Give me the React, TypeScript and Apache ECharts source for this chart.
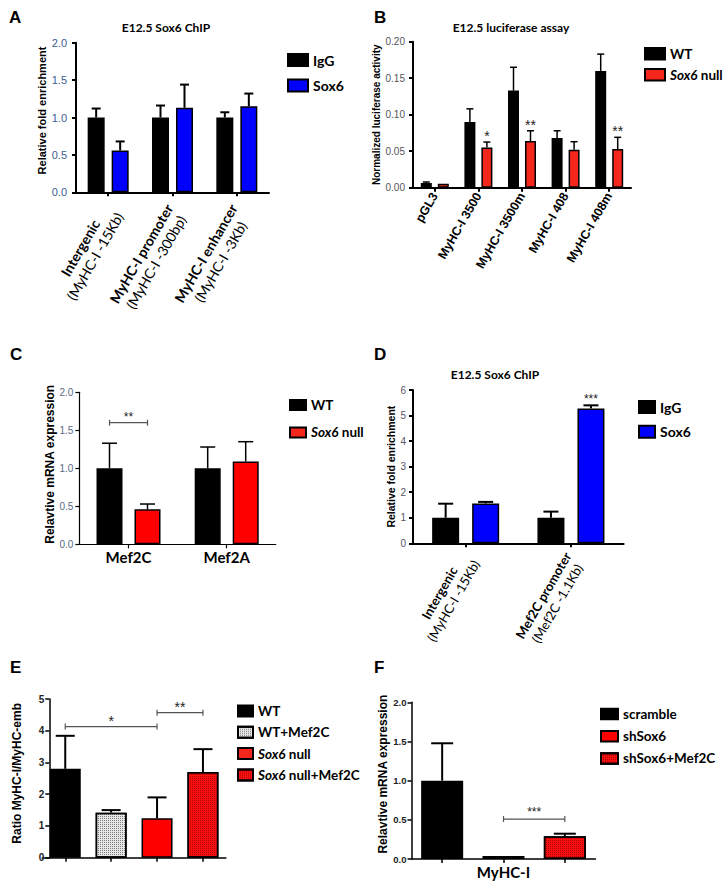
import React, { useEffect, useRef } from 'react';
import * as echarts from 'echarts';

// ---------- Panel A: E12.5 Sox6 ChIP (MyHC-I) ----------
const aSites = ['Intergenic', 'MyHC-I promoter', 'MyHC-I enhancer'];
const aSitePos = ['(MyHC-I -15Kb)', '(MyHC-I -300bp)', '(MyHC-I -3Kb)'];
const aIgG = [1.0, 1.0, 1.0];
const aIgGErr = [0.12, 0.16, 0.07];
const aSox6 = [0.56, 1.13, 1.15];
const aSox6Err = [0.12, 0.31, 0.17];

// ---------- Panel B: luciferase ----------
const bConstructs = ['pGL3', 'MyHC-I 3500', 'MyHC-I 3500m', 'MyHC-I 408', 'MyHC-I 408m'];
const bWT = [0.0064, 0.09, 0.133, 0.068, 0.16];
const bWTErr = [0.0014, 0.018, 0.032, 0.01, 0.023];
const bNull = [0.0055, 0.055, 0.064, 0.052, 0.053];
const bNullErr = [0, 0.0075, 0.014, 0.011, 0.016];
const bSig = ['', '*', '**', '', '**'];

// ---------- Panel C: Mef2 mRNA ----------
const cGenes = ['Mef2C', 'Mef2A'];
const cWT = [1.0, 1.0];
const cWTErr = [0.33, 0.28];
const cNull = [0.46, 1.09];
const cNullErr = [0.07, 0.26];
const cSigGene = [0];
const cSigY = [1.6];
const cSigLabel = ['**'];

// ---------- Panel D: Sox6 ChIP (Mef2C) ----------
const dSites = ['Intergenic', 'Mef2C promoter'];
const dSitePos = ['(MyHC-I -15Kb)', '(Mef2C -1.1Kb)'];
const dIgG = [1.0, 1.0];
const dIgGErr = [0.55, 0.24];
const dSox6 = [1.56, 5.28];
const dSox6Err = [0.06, 0.12];
const dSig = ['', '***'];

// ---------- Panel E: ratio ----------
const eGroups = ['WT', 'WT+Mef2C', 'Sox6 null', 'Sox6 null+Mef2C'];
const eRatio = [2.8, 1.42, 1.24, 2.7];
const eErr = [1.04, 0.08, 0.66, 0.72];
const eSigFrom = [0, 2];
const eSigTo = [2, 3];
const eSigY = [4.13, 4.57];
const eSigLabel = ['*', '**'];

// ---------- Panel F: MyHC-I mRNA ----------
const fGroups = ['scramble', 'shSox6', 'shSox6+Mef2C'];
const fGene = 'MyHC-I';
const fExpr = [1.0, 0.038, 0.29];
const fErr = [0.477, 0.004, 0.033];
const fSigFrom = [1];
const fSigTo = [2];
const fSigY = [0.51];
const fSigLabel = ['***'];

const ARIAL = 'Liberation Sans';
const CAL = 'Lato';

const dotsLight = {
  symbol: 'rect', symbolSize: 1, color: 'rgba(0,0,0,0.45)',
  backgroundColor: '#efefef', dashArrayX: [1, 1], dashArrayY: [1, 1], rotation: 0,
};
const dotsRed = {
  symbol: 'rect', symbolSize: 1, color: 'rgba(90,0,0,0.55)',
  backgroundColor: '#ff1010', dashArrayX: [1, 1], dashArrayY: [1, 1], rotation: 0,
};

function errorSeries(gi: number, vals: number[], errs: number[], offset: number, cap: number, lw: number) {
  return {
    type: 'custom', xAxisIndex: gi, yAxisIndex: gi, z: 4, silent: true,
    data: vals.map((v, i) => [i, v, v + errs[i]]),
    encode: { x: 0, y: [1, 2] },
    renderItem: (params: any, api: any) => {
      const b = api.coord([api.value(0), api.value(1)]);
      const t = api.coord([api.value(0), api.value(2)]);
      if (b[1] - t[1] < 0.6) return { type: 'group', children: [] };
      const x = b[0] + offset;
      const st = { stroke: '#000', lineWidth: lw };
      return {
        type: 'group',
        children: [
          { type: 'line', shape: { x1: x, y1: b[1], x2: x, y2: t[1] }, style: st },
          { type: 'line', shape: { x1: x - cap / 2, y1: t[1], x2: x + cap / 2, y2: t[1] }, style: st },
        ],
      };
    },
  };
}

function starSeries(gi: number, vals: number[], errs: number[], labels: string[], offset: number, gap: number, size: number) {
  return {
    type: 'custom', xAxisIndex: gi, yAxisIndex: gi, z: 5, silent: true,
    data: vals.map((v, i) => [i, v + errs[i]]),
    encode: { x: 0, y: 1 },
    renderItem: (params: any, api: any) => {
      const lbl = labels[params.dataIndex];
      if (!lbl) return { type: 'group', children: [] };
      const p = api.coord([api.value(0), api.value(1)]);
      return {
        type: 'text', x: p[0] + offset, y: p[1] - gap,
        style: {
          text: lbl, fill: '#222', font: `${size}px "${ARIAL}"`,
          textAlign: 'center', textVerticalAlign: 'middle', align: 'center', verticalAlign: 'middle',
        },
      };
    },
  };
}

function bracketSeries(gi: number, from: number[], to: number[], ys: number[], labels: string[], fromOff: number, toOff: number, size: number, labelGap: number) {
  return {
    type: 'custom', xAxisIndex: gi, yAxisIndex: gi, z: 5, silent: true,
    data: from.map((f, i) => [f, to[i], ys[i]]),
    encode: { x: [0, 1], y: 2 },
    renderItem: (params: any, api: any) => {
      const i = params.dataIndex;
      const p1 = api.coord([api.value(0), api.value(2)]);
      const p2 = api.coord([api.value(1), api.value(2)]);
      const x1 = p1[0] + fromOff;
      const x2 = p2[0] + toOff;
      const y = p1[1];
      const st = { stroke: '#555', lineWidth: 1.2 };
      return {
        type: 'group',
        children: [
          { type: 'line', shape: { x1, y1: y, x2, y2: y }, style: st },
          { type: 'line', shape: { x1, y1: y - 3, x2: x1, y2: y + 3 }, style: st },
          { type: 'line', shape: { x1: x2, y1: y - 3, x2, y2: y + 3 }, style: st },
          {
            type: 'text', x: (x1 + x2) / 2, y: y - labelGap,
            style: {
              text: labels[i], fill: '#222', font: `${size}px "${ARIAL}"`,
              textAlign: 'center', textVerticalAlign: 'middle', align: 'center', verticalAlign: 'middle',
            },
          },
        ],
      };
    },
  };
}

function yAx(gi: number, max: number, interval: number, digits: number, label: any, name: string, nameGap: number, nameSize: number, lw: number, nameShift: number, extra: any = {}) {
  return {
    type: 'value', gridIndex: gi, min: 0, max, interval,
    name, nameLocation: 'middle', nameGap,
    nameTextStyle: {
      fontFamily: ARIAL, fontWeight: 'bold', fontSize: nameSize, color: '#000',
      padding: [0, 0, 0, nameShift],
    },
    axisLine: { show: true, lineStyle: { color: '#000', width: lw } },
    axisTick: { show: true, length: 4, lineStyle: { color: '#000', width: lw } },
    splitLine: { show: false },
    axisLabel: { formatter: (v: number) => v.toFixed(digits), ...label },
    ...extra,
  };
}

function xAx(gi: number, data: string[], lw: number, label: any) {
  return {
    type: 'category', gridIndex: gi, data,
    axisLine: { show: true, lineStyle: { color: '#000', width: lw } },
    axisTick: { show: true, alignWithLabel: true, length: 4, lineStyle: { color: '#000', width: lw } },
    splitLine: { show: false },
    axisLabel: { interval: 0, ...label },
  };
}

const twoLineRich = (size: number, lh: number) => ({
  b: { fontFamily: CAL, fontWeight: 'bold', fontSize: size, color: '#000', align: 'center', lineHeight: lh },
  s: { fontFamily: CAL, fontSize: size, color: '#000', align: 'center', lineHeight: lh },
});

const legendText = (size: number) => ({
  fontFamily: CAL, fontWeight: 'bold', fontSize: size, color: '#000',
  rich: { i: { fontFamily: CAL, fontWeight: 'bold', fontStyle: 'italic', fontSize: size, color: '#000' } },
});
const nullFmt = (name: string) => (name.indexOf('Sox6 null') === 0 ? name.replace('Sox6', '{i|Sox6}') : name);

export default function App() {
  const ref = useRef<HTMLDivElement>(null);
  useEffect(() => {
    document.body.style.margin = '0';
    if (!ref.current) return;
    const chart = echarts.init(ref.current, null, { renderer: 'svg', width: 724, height: 883 });

    const bar = (gi: number, name: string, data: any[], width: number, gapPct: string, itemStyle: any) => ({
      type: 'bar', name, xAxisIndex: gi, yAxisIndex: gi, data, barWidth: width, barGap: gapPct,
      itemStyle: { borderColor: '#000', borderWidth: 1.5, ...itemStyle }, z: 2, silent: true,
    });

    const letter = { fontFamily: ARIAL, fontWeight: 'bold', fontSize: 17, color: '#000' };
    const ttl = { fontFamily: CAL, fontWeight: 'bold', fontSize: 12, color: '#000' };

    const A = { bw: 17, gap: 7 };
    const B = { bw: 11, gap: 6 };
    const C = { bw: 26, gap: 12 };
    const D = { bw: 27, gap: 13 };
    const off = (p: { bw: number; gap: number }) => (p.bw + p.gap) / 2;
    const gp = (p: { bw: number; gap: number }) => `${(p.gap / p.bw) * 100}%`;

    const eStyles = [
      { color: '#000' },
      { color: '#e6e6e6', decal: dotsLight },
      { color: '#ff0000' },
      { color: '#ff1010', decal: dotsRed },
    ];
    const fStyles = [{ color: '#000' }, { color: '#ff0000' }, { color: '#ff1010', decal: dotsRed }];

    const option: any = {
      animation: false,
      backgroundColor: '#fff',
      title: [
        { text: 'A', left: 9, top: 9, padding: 0, textStyle: letter },
        { text: 'B', left: 374, top: 9, padding: 0, textStyle: letter },
        { text: 'C', left: 10, top: 346, padding: 0, textStyle: letter },
        { text: 'D', left: 374, top: 346, padding: 0, textStyle: letter },
        { text: 'E', left: 10, top: 659, padding: 0, textStyle: letter },
        { text: 'F', left: 374, top: 659, padding: 0, textStyle: letter },
        { text: 'E12.5 Sox6 ChIP', left: 166, top: 21, padding: 0, textAlign: 'center', textStyle: ttl },
        { text: 'E12.5 luciferase assay', left: 511, top: 21, padding: 0, textAlign: 'center', textStyle: ttl },
        { text: 'E12.5 Sox6 ChIP', left: 495, top: 368, padding: 0, textAlign: 'center', textStyle: ttl },
      ],
      grid: [
        { left: 76, top: 42.7, width: 193, height: 149.6 },
        { left: 413, top: 41.7, width: 218, height: 146 },
        { left: 79.4, top: 392.3, width: 196.4, height: 152 },
        { left: 413, top: 390, width: 210.6, height: 153.3 },
        { left: 42.3, top: 699, width: 183.6, height: 158.7 },
        { left: 411.5, top: 702.3, width: 184, height: 156.7 },
      ],
      xAxis: [
        xAx(0, aSites, 2, {
          rotate: 60, margin: 15, padding: [9, 0, 0, 0],
          formatter: (v: string, i: number) => `{b|${v}}\n{s|${aSitePos[i]}}`,
          rich: twoLineRich(14, 17),
        }),
        xAx(1, bConstructs, 2, {
          rotate: 60, margin: 6, fontFamily: ARIAL, fontWeight: 'bold', fontSize: 12.5, color: '#000',
        }),
        xAx(2, cGenes, 1.2, { margin: 5, fontFamily: CAL, fontWeight: 'bold', fontSize: 15, color: '#000' }),
        xAx(3, dSites, 2, {
          rotate: 60, margin: 12, padding: [8, 0, 0, 0],
          formatter: (v: string, i: number) => `{b|${v}}\n{s|${dSitePos[i]}}`,
          rich: twoLineRich(13, 16),
        }),
        xAx(4, eGroups, 1.5, { show: false }),
        xAx(5, fGroups, 1.5, {
          margin: 5, fontFamily: CAL, fontWeight: 'bold', fontSize: 15, color: '#000',
          formatter: (v: string, i: number) => (i === 1 ? fGene : ''),
        }),
      ],
      yAxis: [
        yAx(0, 2, 0.5, 1, { margin: 9, fontFamily: ARIAL, fontSize: 11, color: '#3a5d92' }, 'Relative fold enrichment', 26, 11, 2, 14),
        yAx(1, 0.2, 0.05, 2, { margin: 8, fontFamily: ARIAL, fontSize: 10, color: '#555' }, 'Normalized luciferase activity', 28, 10, 2, 0),
        yAx(2, 2, 0.5, 1, { margin: 6, fontFamily: ARIAL, fontSize: 10, color: '#5b6a85' }, 'Relavtive mRNA expression', 20, 12, 1.2, 8),
        yAx(3, 6, 1, 0, { margin: 7, fontFamily: ARIAL, fontSize: 10, color: '#556' }, 'Relative fold enrichment', 15, 10.5, 2, 0),
        yAx(4, 5, 1, 0, { margin: 5, fontFamily: ARIAL, fontWeight: 'bold', fontSize: 10, color: '#222' }, 'Ratio MyHC-I/MyHC-emb', 26, 12, 1.5, 10, { offset: -7 }),
        yAx(5, 2, 0.5, 1, { margin: 5, fontFamily: ARIAL, fontWeight: 'bold', fontSize: 9.5, color: '#222' }, 'Relavtive mRNA expression', 18, 12, 1.5, 13),
      ],
      legend: [
        {
          data: ['IgG', 'Sox6'], orient: 'vertical', left: 287, top: 53, padding: 0,
          itemWidth: 20, itemHeight: 12, itemGap: 11.5, icon: 'rect', selectedMode: false,
          textStyle: legendText(14),
        },
        {
          data: ['WT', 'Sox6 null'], orient: 'vertical', left: 644, top: 46.7, padding: 0,
          itemWidth: 20, itemHeight: 11.5, itemGap: 7, icon: 'rect', selectedMode: false,
          formatter: nullFmt, textStyle: legendText(13.5),
        },
        {
          data: ['WT', 'Sox6 null'], orient: 'vertical', left: 289, top: 398, padding: 0,
          itemWidth: 16, itemHeight: 10, itemGap: 13.4, icon: 'rect', selectedMode: false,
          formatter: nullFmt, textStyle: legendText(13.5),
        },
        {
          data: ['IgG', 'Sox6'], orient: 'vertical', left: 638, top: 400, padding: 0,
          itemWidth: 16, itemHeight: 12, itemGap: 10.7, icon: 'rect', selectedMode: false,
          textStyle: legendText(14),
        },
        {
          data: eGroups, orient: 'vertical', left: 237, top: 704, padding: 0,
          itemWidth: 15, itemHeight: 11, itemGap: 7.3, icon: 'rect', selectedMode: false,
          formatter: nullFmt, textStyle: legendText(13.5),
        },
        {
          data: fGroups, orient: 'vertical', left: 600, top: 707, padding: 0,
          itemWidth: 17, itemHeight: 10.5, itemGap: 8.2, icon: 'rect', selectedMode: false,
          textStyle: legendText(13.5),
        },
      ],
      series: [
        bar(0, 'IgG', aIgG, A.bw, gp(A), { color: '#000' }),
        bar(0, 'Sox6', aSox6, A.bw, gp(A), { color: '#0000ff' }),
        errorSeries(0, aIgG, aIgGErr, -off(A), 9, 2),
        errorSeries(0, aSox6, aSox6Err, off(A), 9, 2),
        bar(1, 'WT', bWT, B.bw, gp(B), { color: '#000' }),
        bar(1, 'Sox6 null', bNull, B.bw, gp(B), { color: '#f5261b' }),
        errorSeries(1, bWT, bWTErr, -off(B), 7, 1.5),
        errorSeries(1, bNull, bNullErr, off(B), 7, 1.5),
        starSeries(1, bNull, bNullErr, bSig, off(B), 6, 14),
        bar(2, 'WT', cWT, C.bw, gp(C), { color: '#000' }),
        bar(2, 'Sox6 null', cNull, C.bw, gp(C), { color: '#ff0000' }),
        errorSeries(2, cWT, cWTErr, -off(C), 15, 1.5),
        errorSeries(2, cNull, cNullErr, off(C), 15, 1.5),
        bracketSeries(2, cSigGene, cSigGene, cSigY, cSigLabel, -off(C), off(C), 12, 6),
        bar(3, 'IgG', dIgG, D.bw, gp(D), { color: '#000' }),
        bar(3, 'Sox6', dSox6, D.bw, gp(D), { color: '#0000ff' }),
        errorSeries(3, dIgG, dIgGErr, -off(D), 15, 2),
        errorSeries(3, dSox6, dSox6Err, off(D), 15, 2),
        starSeries(3, dSox6, dSox6Err, dSig, off(D), 6, 12),
        ...eGroups.map((g, k) =>
          bar(4, g, eRatio.map((v, j) => (j === k ? v : '-')), 31, '-100%', eStyles[k])
        ),
        errorSeries(4, eRatio, eErr, 0, 19, 2),
        bracketSeries(4, eSigFrom, eSigTo, eSigY, eSigLabel, 0, 0, 14, 6),
        ...fGroups.map((g, k) =>
          bar(5, g, fExpr.map((v, j) => (j === k ? v : '-')), 42, '-100%', fStyles[k])
        ),
        errorSeries(5, fExpr, fErr, 0, 22, 2),
        bracketSeries(5, fSigFrom, fSigTo, fSigY, fSigLabel, 0, 0, 12, 7),
      ],
    };
    chart.setOption(option);
    return () => chart.dispose();
  }, []);
  return <div ref={ref} style={{ width: 724, height: 883, background: '#fff' }} />;
}
